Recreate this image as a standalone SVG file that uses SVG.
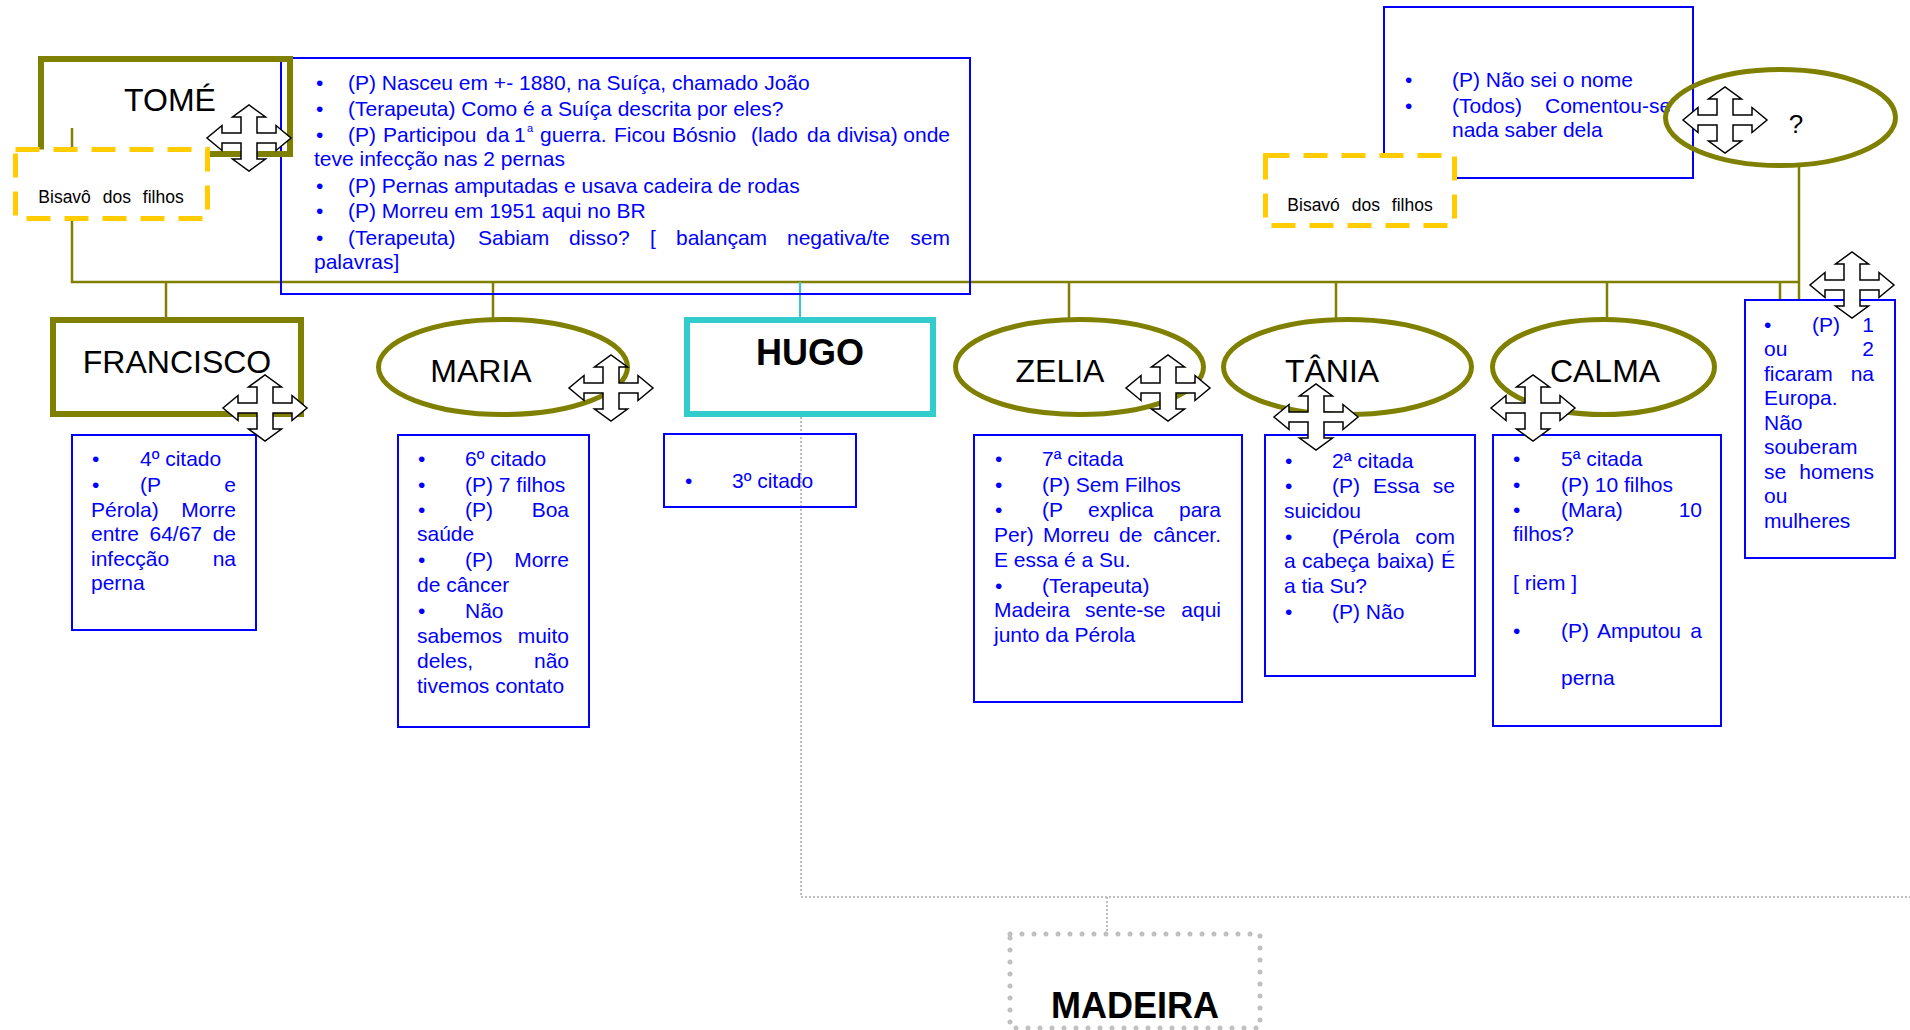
<svg xmlns="http://www.w3.org/2000/svg" xmlns:xlink="http://www.w3.org/1999/xlink" width="1910" height="1030" viewBox="0 0 1910 1030">
  <style>
    .t { font-family: "Liberation Sans", Arial, sans-serif; font-size: 21px; fill: #0000FF; }
    .e { text-anchor: end; }
    .nm { font-family: "Liberation Sans", Arial, sans-serif; font-size: 32px; fill: #000; text-anchor: middle; }
    .nb { font-family: "Liberation Sans", Arial, sans-serif; font-size: 36px; font-weight: bold; fill: #000; text-anchor: middle; }
    .sm { font-family: "Liberation Sans", Arial, sans-serif; font-size: 17.5px; fill: #000; text-anchor: middle; word-spacing: 7px; }
    .box { fill: none; stroke: #0000FF; stroke-width: 2; }
    .olive { fill: none; stroke: #808000; stroke-width: 6; }
    .ell { fill: none; stroke: #808000; stroke-width: 5; }
    .cyan { fill: none; stroke: #33CCCC; stroke-width: 6; }
    .dash { fill: #fff; stroke: #FFCC00; stroke-width: 5; stroke-dasharray: 24 14; }
    .dots { fill: none; stroke: #C0C0C0; stroke-width: 5; stroke-linecap: round; stroke-dasharray: 0 12; }
    .link { fill: none; stroke: #808000; stroke-width: 2.5; }
    .gray { fill: none; stroke: #BFBFBF; stroke-width: 2; stroke-dasharray: 2 2; }
    .move { fill: #fff; stroke: #000; stroke-width: 1.5; stroke-linejoin: miter; }
  </style>
  <defs>
    <!-- four-way "move" handle -->
    <path id="mv" d="M-8,-21 H-16.5 L0,-33 L16.5,-21 H8 V-5 H27 V-12.5 L42,0 L27,12.5 V5 H8 V21 H16.5 L0,33 L-16.5,21 H-8 V5 H-27 V12.5 L-42,0 L-27,-12.5 V-5 H-8 Z"/>
  </defs>

  <rect width="1910" height="1030" fill="#fff"/>

  <!-- connectors -->
  <g id="connectors">
    <path class="link" d="M72,128 V282 H1799"/>
    <path class="link" d="M1799,166 V299"/>
    <path class="link" d="M1780,282 V299"/>
    <path class="link" d="M166,282 V317"/>
    <path class="link" d="M493,282 V318"/>
    <path class="link" d="M1069,282 V318"/>
    <path class="link" d="M1336,282 V318"/>
    <path class="link" d="M1607,282 V318"/>
    <path d="M800,282 V317" fill="none" stroke="#33CCCC" stroke-width="2"/>
    <path class="gray" d="M801,417 V897 H1910"/>
    <path class="gray" d="M1107,897 V932"/>
  </g>

  <!-- Tomé -->
  <g id="tome">
    <rect class="box" x="281" y="58" width="689" height="236"/>
    <text class="t"><tspan x="316" y="90">•</tspan><tspan x="348">(P) Nasceu em +- 1880, na Suíça, chamado João</tspan></text>
    <text class="t"><tspan x="316" y="116">•</tspan><tspan x="348">(Terapeuta) Como é a Suíça descrita por eles?</tspan></text>
    <text class="t" y="142"><tspan x="316">•</tspan><tspan x="348">(P)</tspan><tspan x="383">Participou</tspan><tspan x="486">da</tspan><tspan x="514">1</tspan><tspan x="527" y="132" font-size="11">a</tspan><tspan x="540" y="142">guerra.</tspan><tspan x="614">Ficou</tspan><tspan x="672">Bósnio</tspan><tspan x="751">(lado</tspan><tspan x="807">da</tspan><tspan x="837">divisa)</tspan><tspan x="950" class="e">onde</tspan></text>
    <text class="t" x="314" y="166">teve infecção nas 2 pernas</text>
    <text class="t"><tspan x="316" y="193">•</tspan><tspan x="348">(P) Pernas amputadas e usava cadeira de rodas</tspan></text>
    <text class="t"><tspan x="316" y="218">•</tspan><tspan x="348">(P) Morreu em 1951 aqui no BR</tspan></text>
    <text class="t" y="245"><tspan x="316">•</tspan><tspan x="348">(Terapeuta)</tspan><tspan x="478">Sabiam</tspan><tspan x="569">disso?</tspan><tspan x="650">[</tspan><tspan x="676">balançam</tspan><tspan x="787">negativa/te</tspan><tspan x="950" class="e">sem</tspan></text>
    <text class="t" x="314" y="269">palavras]</text>
    <rect class="olive" x="41" y="59" width="249" height="95"/>
    <text class="nm" x="170" y="111">TOMÉ</text>
    <rect class="dash" x="15.5" y="149.5" width="192" height="69"/>
    <text class="sm" x="111" y="203">Bisavô dos filhos</text>
    <use xlink:href="#mv" class="move" transform="translate(249,138)"/>
  </g>

  <!-- Francisco -->
  <g id="francisco">
    <rect class="olive" x="53" y="320" width="248" height="94"/>
    <text class="nm" x="177" y="373">FRANCISCO</text>
    <rect class="box" x="72" y="435" width="184" height="195"/>
    <text class="t"><tspan x="92" y="466">•</tspan><tspan x="140">4º citado</tspan></text>
    <text class="t" y="492"><tspan x="92">•</tspan><tspan x="140">(P</tspan><tspan x="236" class="e">e</tspan></text>
    <text class="t" y="517"><tspan x="91">Pérola)</tspan><tspan x="236" class="e">Morre</tspan></text>
    <text class="t" y="541"><tspan x="91">entre</tspan><tspan x="149.5">64/67</tspan><tspan x="236" class="e">de</tspan></text>
    <text class="t" y="566"><tspan x="91">infecção</tspan><tspan x="236" class="e">na</tspan></text>
    <text class="t" x="91" y="590">perna</text>
    <use xlink:href="#mv" class="move" transform="translate(265,408)"/>
  </g>

  <!-- Maria -->
  <g id="maria">
    <ellipse class="ell" cx="503" cy="367" rx="124.5" ry="47.5"/>
    <text class="nm" x="481" y="382">MARIA</text>
    <rect class="box" x="398" y="435" width="191" height="292"/>
    <text class="t"><tspan x="418" y="466">•</tspan><tspan x="465">6º citado</tspan></text>
    <text class="t"><tspan x="418" y="492">•</tspan><tspan x="465">(P) 7 filhos</tspan></text>
    <text class="t" y="517"><tspan x="418">•</tspan><tspan x="465">(P)</tspan><tspan x="569" class="e">Boa</tspan></text>
    <text class="t" x="417" y="541">saúde</text>
    <text class="t" y="567"><tspan x="418">•</tspan><tspan x="465">(P)</tspan><tspan x="569" class="e">Morre</tspan></text>
    <text class="t" x="417" y="592">de câncer</text>
    <text class="t"><tspan x="418" y="618">•</tspan><tspan x="465">Não</tspan></text>
    <text class="t" y="643"><tspan x="417">sabemos</tspan><tspan x="569" class="e">muito</tspan></text>
    <text class="t" y="668"><tspan x="417">deles,</tspan><tspan x="569" class="e">não</tspan></text>
    <text class="t" x="417" y="693">tivemos contato</text>
    <use xlink:href="#mv" class="move" transform="translate(611,388)"/>
  </g>

  <!-- Hugo -->
  <g id="hugo">
    <rect class="cyan" x="687" y="320" width="246" height="94"/>
    <text class="nb" x="810" y="365">HUGO</text>
    <rect class="box" x="664" y="434" width="192" height="73"/>
    <text class="t"><tspan x="685" y="488">•</tspan><tspan x="732">3º citado</tspan></text>
  </g>

  <!-- Zelia -->
  <g id="zelia">
    <ellipse class="ell" cx="1079.5" cy="367" rx="124" ry="47.5"/>
    <text class="nm" x="1060" y="382">ZELIA</text>
    <rect class="box" x="974" y="435" width="268" height="267"/>
    <text class="t"><tspan x="995" y="466">•</tspan><tspan x="1042">7ª citada</tspan></text>
    <text class="t"><tspan x="995" y="492">•</tspan><tspan x="1042">(P) Sem Filhos</tspan></text>
    <text class="t" y="517"><tspan x="995">•</tspan><tspan x="1042">(P</tspan><tspan x="1088">explica</tspan><tspan x="1221" class="e">para</tspan></text>
    <text class="t" y="542"><tspan x="994">Per)</tspan><tspan x="1043">Morreu</tspan><tspan x="1119">de</tspan><tspan x="1221" class="e">câncer.</tspan></text>
    <text class="t" x="994" y="567">E essa é a Su.</text>
    <text class="t"><tspan x="995" y="593">•</tspan><tspan x="1042">(Terapeuta)</tspan></text>
    <text class="t" y="617"><tspan x="994">Madeira</tspan><tspan x="1085">sente-se</tspan><tspan x="1221" class="e">aqui</tspan></text>
    <text class="t" x="994" y="642">junto da Pérola</text>
    <use xlink:href="#mv" class="move" transform="translate(1168,388)"/>
  </g>

  <!-- Tânia -->
  <g id="tania">
    <ellipse class="ell" cx="1347.5" cy="367" rx="124" ry="47.5"/>
    <text class="nm" x="1332" y="382">TÂNIA</text>
    <rect class="box" x="1265" y="435" width="210" height="241"/>
    <text class="t"><tspan x="1285" y="468">•</tspan><tspan x="1332">2ª citada</tspan></text>
    <text class="t" y="493"><tspan x="1285">•</tspan><tspan x="1332">(P)</tspan><tspan x="1373">Essa</tspan><tspan x="1455" class="e">se</tspan></text>
    <text class="t" x="1284" y="518">suicidou</text>
    <text class="t" y="544"><tspan x="1285">•</tspan><tspan x="1332">(Pérola</tspan><tspan x="1455" class="e">com</tspan></text>
    <text class="t" y="568"><tspan x="1284">a</tspan><tspan x="1302">cabeça</tspan><tspan x="1377">baixa)</tspan><tspan x="1455" class="e">É</tspan></text>
    <text class="t" x="1284" y="593">a tia Su?</text>
    <text class="t"><tspan x="1285" y="619">•</tspan><tspan x="1332">(P) Não</tspan></text>
    <use xlink:href="#mv" class="move" transform="translate(1316,417)"/>
  </g>

  <!-- Calma -->
  <g id="calma">
    <ellipse class="ell" cx="1603.5" cy="367" rx="111" ry="47.5"/>
    <text class="nm" x="1605" y="382">CALMA</text>
    <rect class="box" x="1493" y="435" width="228" height="291"/>
    <text class="t"><tspan x="1513" y="466">•</tspan><tspan x="1561">5ª citada</tspan></text>
    <text class="t"><tspan x="1513" y="492">•</tspan><tspan x="1561">(P) 10 filhos</tspan></text>
    <text class="t" y="517"><tspan x="1513">•</tspan><tspan x="1561">(Mara)</tspan><tspan x="1702" class="e">10</tspan></text>
    <text class="t" x="1513" y="541">filhos?</text>
    <text class="t" x="1513" y="590">[ riem ]</text>
    <text class="t" y="638"><tspan x="1513">•</tspan><tspan x="1561">(P)</tspan><tspan x="1597">Amputou</tspan><tspan x="1702" class="e">a</tspan></text>
    <text class="t" x="1561" y="685">perna</text>
    <use xlink:href="#mv" class="move" transform="translate(1533,408)"/>
  </g>

  <!-- unnamed great-grandmother -->
  <g id="bisavo">
    <rect class="box" x="1384" y="7" width="309" height="171"/>
    <text class="t"><tspan x="1405" y="87">•</tspan><tspan x="1452">(P) Não sei o nome</tspan></text>
    <text class="t" y="113"><tspan x="1405">•</tspan><tspan x="1452">(Todos)</tspan><tspan x="1545">Comentou-se</tspan></text>
    <text class="t" x="1452" y="137">nada saber dela</text>
    <ellipse class="ell" cx="1780.5" cy="117.5" rx="115" ry="48"/>
    <text x="1796" y="133" font-family="Liberation Sans, Arial, sans-serif" font-size="26" fill="#000" text-anchor="middle">?</text>
    <rect class="dash" x="1265.5" y="155.5" width="189" height="70"/>
    <text class="sm" x="1360" y="211">Bisavó dos filhos</text>
    <use xlink:href="#mv" class="move" transform="translate(1725,120)"/>
  </g>

  <!-- siblings left in Europe -->
  <g id="europa">
    <rect class="box" x="1745" y="300" width="150" height="258"/>
    <text class="t" y="332"><tspan x="1764">•</tspan><tspan x="1812">(P)</tspan><tspan x="1874" class="e">1</tspan></text>
    <text class="t" y="356"><tspan x="1764">ou</tspan><tspan x="1874" class="e">2</tspan></text>
    <text class="t" y="381"><tspan x="1764">ficaram</tspan><tspan x="1874" class="e">na</tspan></text>
    <text class="t" x="1764" y="405">Europa.</text>
    <text class="t" x="1764" y="430">Não</text>
    <text class="t" x="1764" y="454">souberam</text>
    <text class="t" y="479"><tspan x="1764">se</tspan><tspan x="1874" class="e">homens</tspan></text>
    <text class="t" x="1764" y="503">ou</text>
    <text class="t" x="1764" y="528">mulheres</text>
    <use xlink:href="#mv" class="move" transform="translate(1852,285)"/>
  </g>

  <!-- Madeira -->
  <g id="madeira">
    <rect class="dots" x="1010" y="934" width="250" height="94"/>
    <text class="nb" x="1135" y="1018">MADEIRA</text>
  </g>
</svg>
